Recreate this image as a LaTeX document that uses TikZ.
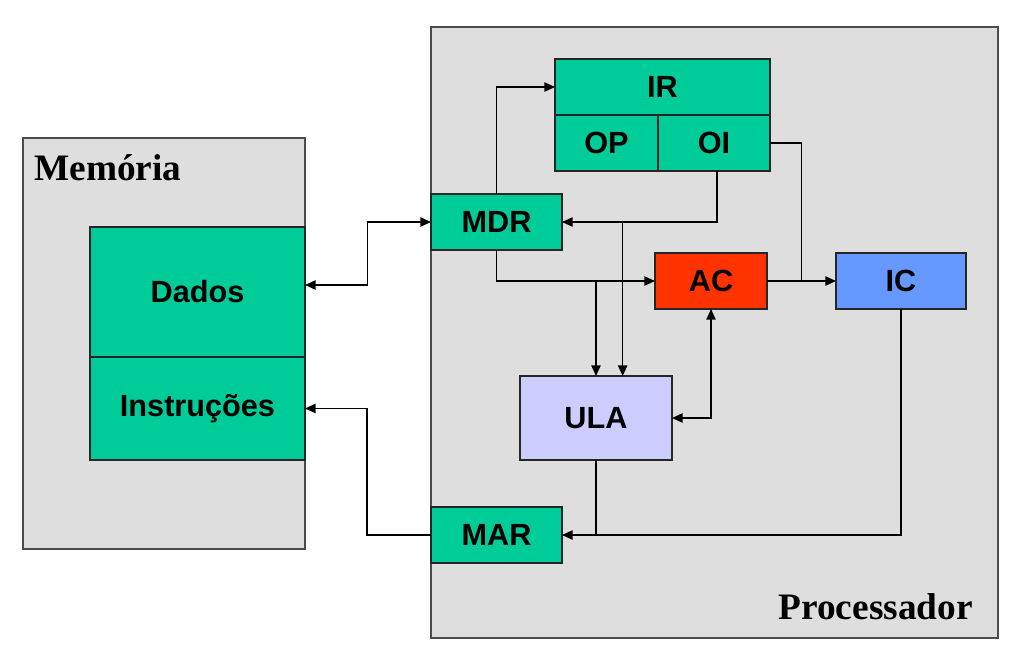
\documentclass[tikz,border=0pt]{standalone}
\usepackage{fontspec}
\setmainfont{Liberation Sans}
\newfontfamily\titlefont{Liberation Serif}
\usepackage{tikz}
\usetikzlibrary{arrows.meta,calc}

\definecolor{fundo}{HTML}{DEDEDE}
\definecolor{verde}{HTML}{00CC99}
\definecolor{vermelho}{HTML}{FF3300}
\definecolor{azul}{HTML}{6699FF}
\definecolor{lilas}{HTML}{CCCCFF}

\tikzset{
  bloco/.style={draw=black!85, line width=0.8pt, inner sep=0pt, outer sep=0pt,
    font=\bfseries\fontsize{23}{26}\selectfont},
  area/.style={draw=black!70, line width=0.8pt, fill=fundo, inner sep=0pt, outer sep=0pt},
  titulo/.style={inner sep=0pt, font=\titlefont\bfseries\fontsize{28}{31}\selectfont},
  fio/.style={line width=1.1pt, >={Triangle[length=8pt,width=7pt]}}
}

\begin{document}
\begin{tikzpicture}[x=0.75pt,y=-0.75pt]
		\useasboundingbox (0,0) rectangle (1023,664);

		% areas
		\node[area, minimum width=211.5pt, minimum height=308.25pt] (mem) at (164,343.5) {};
		\node[area, minimum width=425.25pt, minimum height=458.25pt] (proc) at (714.5,332.5) {};

		\node[titulo, anchor=base west] (memtxt)
		at ([xshift=8.25pt,yshift=-31.5pt]mem.north west) {Memória};
		\node[titulo, anchor=base east] (proctxt)
		at ([xshift=-18.75pt,yshift=14.25pt]proc.south east) {Processador};

		% memoria
		\node[bloco, fill=verde, minimum width=161.25pt, minimum height=97.5pt] (dados) at (197.5,292) {Dados};
		\node[bloco, fill=verde, minimum width=161.25pt, minimum height=77.25pt] (instr) at (197.5,408.5) {Instruções};

		% processador
		\node[bloco, fill=verde, minimum width=161.25pt, minimum height=42pt] (ir) at (662.5,87) {IR};
		\node[bloco, fill=verde, minimum width=77.25pt, minimum height=42pt] (op) at (606.5,143) {OP};
		\node[bloco, fill=verde, minimum width=84pt, minimum height=42pt] (oi) at (714,143) {OI};
		\node[bloco, fill=verde, minimum width=98.25pt, minimum height=42pt] (mdr) at (496.5,222) {MDR};
		\node[bloco, fill=vermelho, minimum width=84pt, minimum height=42pt] (ac) at (711,281) {AC};
		\node[bloco, fill=azul, minimum width=97.5pt, minimum height=42pt] (ic) at (901,281) {IC};
		\node[bloco, fill=lilas, minimum width=114pt, minimum height=63pt] (ula) at (596,418) {ULA};
		\node[bloco, fill=verde, minimum width=98.25pt, minimum height=42pt] (mar) at (496.5,535) {MAR};

		% ligacoes
		\draw[fio, <->] ([yshift=5.25pt]dados.east) -- ++(47pt,0) |- (mdr.west);
		\draw[fio, ->] (mar.west) -- ++(-48pt,0) |- (instr.east);
		\draw[fio, ->] (mdr.north) |- (ir.west);
		\draw[fio, ->] ([xshift=2.25pt]oi.south) |- (mdr.east);
		\draw[fio, ->] ([xshift=20pt]ula.north |- mdr.east) -- ([xshift=20pt]ula.north);
		\draw[fio, ->] (mdr.south) |- (ac.west);
		\draw[fio, ->] (ula.north |- ac.west) -- (ula.north);
		\draw[fio, <->] (ac.south) |- (ula.east);
		\draw[fio, ->] (ac.east) -- (ic.west);
		\draw[fio] (oi.east) -| ($(ac.east)!0.5!(ic.west)$);
		\draw[fio, ->] (ic.south) |- (mar.east);
		\draw[fio] (ula.south) -- (ula.south |- mar.east);

\end{tikzpicture}
\end{document}
